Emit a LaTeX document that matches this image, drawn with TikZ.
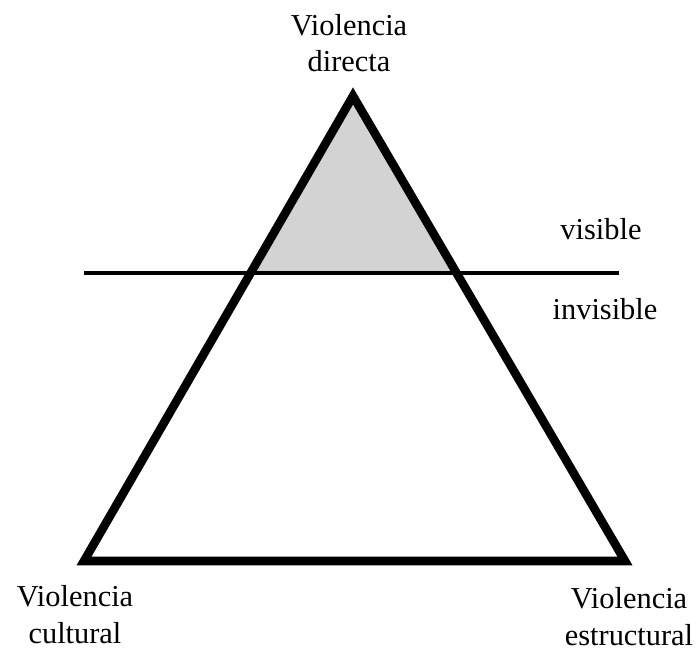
\documentclass[tikz,border=0pt]{standalone}
\usepackage{fontspec}
\setmainfont{Liberation Serif}
\usetikzlibrary{positioning}
\definecolor{visgray}{RGB}{211,211,211}

\begin{document}
\begin{tikzpicture}[x=0.5pt, y=-0.5pt,
		lbl/.style={inner sep=0pt, align=center, anchor=base, font=\fontsize{15.2}{18.3}\selectfont}]
		\useasboundingbox (0,0) rectangle (699,652);
		\coordinate (top) at (353,96);
		\coordinate (left) at (84,561);
		\coordinate (right) at (625,561);
		\coordinate (line_l) at (84,273);
		\coordinate (line_r) at (619,273);
		% visible part
		\begin{scope}
			\clip (top) -- (left) -- (right) -- cycle;
			\fill[visgray] (0,0) rectangle (699,273);
		\end{scope}
		\draw[line width=2pt] (line_l) -- (line_r);
		\draw[line width=4.3pt, line join=miter] (top) -- (left) -- (right) -- cycle;
		\node[lbl] (v_directa) at (349,72) {Violencia\\directa};
		\node[lbl] (v_cultural) at (75,643) {Violencia\\cultural};
		\node[lbl] (v_estructural) at (629,645) {Violencia\\estructural};
		\node[lbl] (visible) at (601,239) {visible};
		\node[lbl] (invisible) at (605,319) {invisible};
	\end{tikzpicture}
\end{document}
